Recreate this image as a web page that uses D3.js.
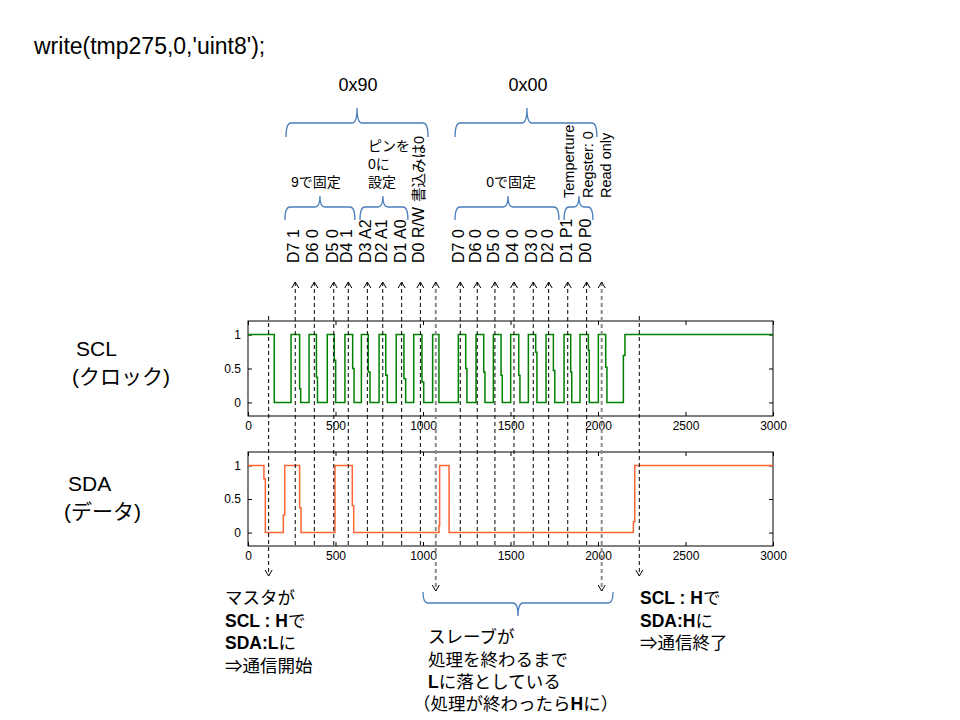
<!DOCTYPE html>
<html><head><meta charset="utf-8">
<script src="https://cdn.jsdelivr.net/npm/d3@7"></script>
<style>
body{margin:0;background:#fff}
text{font-family:"Liberation Sans",Arial,"Noto Sans CJK JP",sans-serif;fill:#000}
</style></head>
<body><svg id="c" width="960" height="720"></svg>
<script>
// ---------- data ----------
const xTicks = [0, 500, 1000, 1500, 2000, 2500, 3000];
const yTicks = [0, 0.5, 1];
// SCL samples [time, level]
const sclSamples = [[0,1],[150,0],[246,1],[295,0.2],[301,0],[349,1],[391,0.37],[397,0],[453,1],[493,0.62],[501,0],
  [554,1],[598,0.5],[606,0],[648,1],[687,0.45],[697,0],[749,1],[787,0.4],[796,0],[847,1],[891,0.35],[901,0],
  [947,1],[994,0.3],[1004,0],[1055,1],[1091,0],[1202,1],[1244,0.5],[1251,0],[1303,1],[1347,0.45],[1354,0],
  [1402,1],[1446,0.4],[1453,0],[1501,1],[1547,0.4],[1554,0],[1602,1],[1644,0.74],[1651,0],[1703,1],[1745,0.47],
  [1753,0],[1806,1],[1844,0.45],[1850,0],[1897,1],[1945,0.77],[1950,0],[2002,1],[2044,0.52],[2051,0],
  [2145,0.69],[2154,1],[3000,1]];
// SDA samples [time, level]
const sdaSamples = [[0,1],[91,0.8],[99,0],[202,0.26],[210,1],[295,0.37],[303,0],[497,1],[596,0.4],[604,0],
  [1091,0.1],[1095,1],[1149,0],[2202,0.16],[2210,1],[3000,1]];
// annotation markers (time positions)
const markT    = [118, 270,379,490,573,682,770,878,985, 1073, 1213,1310,1411,1520,1630,1718,1827,1935, 2021, 2236];
const markKind = ["start","bit","bit","bit","bit","bit","bit","bit","bit","ack",
                  "bit","bit","bit","bit","bit","bit","bit","bit","ack","stop"];
const byte1Labels = ["D7 1","D6 0","D5 0","D4 1","D3 A2","D2 A1","D1 A0","D0 R/W"];
const byte2Labels = ["D7 0","D6 0","D5 0","D4 0","D3 0","D2 0","D1 P1","D0 P0"];
const byteNames = ["0x90","0x00"];
// braces: [start, tip, end] in time units
const bigBraces   = [[217,623,1029],[1183,1594,1994]];
const smallBraces = [[211,411,611],[640,771,914],[1183,1486,1777],[1806,1891,1971]];
const bottomBrace = [1000,1543,2086];

// ---------- layout ----------
const svg = d3.select("#c");
const x = d3.scaleLinear().domain([0,3000]).range([248,773]);
const plots = [
  {name:"SCL", sub:"(クロック)", data:sclSamples, color:"#008000", y:d3.scaleLinear().domain([-0.2,1.2]).range([416,321])},
  {name:"SDA", sub:"(データ)",   data:sdaSamples, color:"#ff6633", y:d3.scaleLinear().domain([-0.2,1.2]).range([546,452])}
];

svg.append("text").attr("x",34).attr("y",54).attr("font-size",23).text("write(tmp275,0,'uint8');");

plots.forEach((p,i)=>{
  const g = svg.append("g");
  const [yb, yt] = p.y.range();
  const fmt = d => d3.format("")(d);
  g.append("g").attr("transform",`translate(0,${yb})`)
    .call(d3.axisBottom(x).tickValues(xTicks).tickSize(-4).tickPadding(5).tickFormat(fmt));
  g.append("g").attr("transform",`translate(0,${yt})`)
    .call(d3.axisTop(x).tickValues(xTicks).tickSize(-4).tickFormat(""));
  g.append("g").attr("transform",`translate(${x.range()[0]},0)`)
    .call(d3.axisLeft(p.y).tickValues(yTicks).tickSize(-4).tickPadding(7).tickFormat(fmt));
  g.append("g").attr("transform",`translate(${x.range()[1]},0)`)
    .call(d3.axisRight(p.y).tickValues(yTicks).tickSize(-4).tickFormat(""));
  g.selectAll(".domain").remove();
  g.selectAll(".tick text").attr("font-size",12).style("font-family",'"Liberation Sans",Arial,sans-serif');
  g.append("rect").attr("x",x.range()[0]).attr("y",yt).attr("width",x.range()[1]-x.range()[0]).attr("height",yb-yt)
    .attr("fill","none").attr("stroke","#000").attr("stroke-width",1);
  g.append("path").datum(p.data)
    .attr("d", d3.line().x(d=>x(d[0])).y(d=>p.y(d[1])).curve(d3.curveStepAfter))
    .attr("fill","none").attr("stroke",p.color).attr("stroke-width",1.5);
  const ly = i===0 ? 356 : 491;
  svg.append("text").attr("x", i===0?76:68).attr("y",ly).attr("font-size",21).text(p.name);
  svg.append("text").attr("x", i===0?72:64).attr("y",ly+28).attr("font-size",21).text(p.sub);
});

// ---------- dashed marker lines ----------
const topY = 282, sdaBottom = 546;
const chevron = (cx, cy, dir) => `M${cx-3.5},${cy+dir*6}L${cx},${cy}L${cx+3.5},${cy+dir*6}`;
markT.forEach((t,i)=>{
  const k = markKind[i], px = x(t);
  let y1 = topY, y2 = sdaBottom, bottomArrow = false;
  if (k==="start"||k==="stop"){ y1 = 316; y2 = 576; bottomArrow = true; }
  if (k==="ack"){ y2 = 591; bottomArrow = true; }
  const col = k==="ack" ? "#8c8c8c" : "#000";
  svg.append("line").attr("x1",px).attr("x2",px).attr("y1",y1).attr("y2",y2)
    .attr("stroke",col).attr("stroke-width",k==="ack"?2:1).attr("stroke-dasharray","4,3");
  if (k==="bit"||k==="ack")
    svg.append("path").attr("d",chevron(px,topY,1)).attr("fill","none").attr("stroke","#000").attr("stroke-width",1);
  if (bottomArrow)
    svg.append("path").attr("d",chevron(px,y2,-1)).attr("fill","none").attr("stroke","#000").attr("stroke-width",1);
});

// ---------- rotated bit labels ----------
const bitIdx = markKind.map((k,i)=>k==="bit"?i:-1).filter(i=>i>=0);
const allLabels = byte1Labels.concat(byte2Labels);
bitIdx.forEach((mi,j)=>{
  const px = x(markT[mi]) - 1.5;
  const t = svg.append("text").attr("transform",`translate(${px},263) rotate(-90)`)
    .attr("dy","0.35em").attr("font-size",16);
  t.append("tspan").text(allLabels[j]);
  if (j===7) t.append("tspan").attr("dx",5).attr("font-size",14.5).text("書込みは0");
});
// register description (byte 2 P1, P0, ACK columns)
const regText = ["Temperture","Regster: 0","Read only"];
[bitIdx[14], bitIdx[15], markKind.lastIndexOf("ack")].forEach((mi,j)=>{
  svg.append("text").attr("transform",`translate(${x(markT[mi])+ (j===2?4:1)},198) rotate(-90)`)
    .attr("dy","0.35em").attr("font-size",14.5).text(regText[j]);
});

// ---------- braces ----------
function bracePath(x1, xm, x2, y, dir, hEnd, hTip){
  const r = 5;
  return `M${x1},${y+dir*hEnd} Q${x1},${y} ${x1+r},${y} L${xm-r},${y} Q${xm},${y} ${xm},${y-dir*hTip}`+
         ` Q${xm},${y} ${xm+r},${y} L${x2-r},${y} Q${x2},${y} ${x2},${y+dir*hEnd}`;
}
const braceStyle = s => s.attr("fill","none").attr("stroke","#4a7ebb").attr("stroke-width",1.3);
bigBraces.forEach((b,i)=>{
  svg.append("path").attr("d",bracePath(x(b[0]),x(b[1]),x(b[2]),123,1,14,15)).call(braceStyle);
  svg.append("text").attr("x",x(b[1])+1).attr("y",91).attr("text-anchor","middle").attr("font-size",18).text(byteNames[i]);
});
smallBraces.forEach(b=>{
  svg.append("path").attr("d",bracePath(x(b[0]),x(b[1]),x(b[2]),207,1,13,11)).call(braceStyle);
});
svg.append("path").attr("d",bracePath(x(bottomBrace[0]),x(bottomBrace[1]),x(bottomBrace[2]),603,-1,11,13)).call(braceStyle);

// group captions
svg.append("text").attr("x",x(smallBraces[0][1])-4).attr("y",187).attr("text-anchor","middle").attr("font-size",14).text("9で固定");
svg.append("text").attr("x",x(smallBraces[2][1])+3).attr("y",187).attr("text-anchor","middle").attr("font-size",14).text("0で固定");
["ピンを","0に","設定"].forEach((s,i)=>{
  svg.append("text").attr("x",368).attr("y",151+i*18).attr("font-size",14).text(s);
});

// ---------- bottom notes ----------
function note(x0, y0, lines){
  lines.forEach((ln,i)=>{
    const t = svg.append("text").attr("x",x0).attr("y",y0+i*22.5).attr("font-size",17.5);
    ln.forEach(seg=>{
      t.append("tspan").attr("font-weight",seg[1]?"bold":null).text(seg[0]);
    });
  });
}
note(225,604,[[["マスタが",0]],[["SCL : H",1],["で",0]],[["SDA:L",1],["に",0]],[["⇒通信開始",0]]]);
note(428,643,[[["スレーブが",0]],[["処理を終わるまで",0]],[["L",1],["に落としている",0]]]);
note(413,710,[[["（処理が終わったら",0],["H",1],["に）",0]]]);
note(640,604,[[["SCL : H",1],["で",0]],[["SDA:H",1],["に",0]],[["⇒通信終了",0]]]);
</script></body></html>
